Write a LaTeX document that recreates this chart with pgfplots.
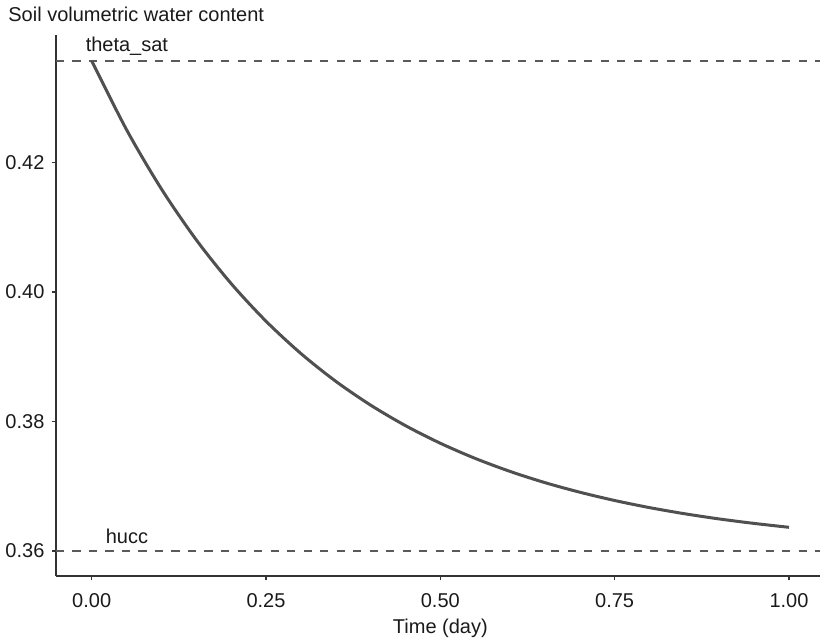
\documentclass[border=0pt]{standalone}
\usepackage{fontspec}
\setmainfont{Liberation Sans}
\usepackage{pgfplots}
\pgfplotsset{compat=1.18}
\definecolor{curve}{HTML}{505050}
\definecolor{dashc}{HTML}{5A5A5A}
\definecolor{axc}{HTML}{333333}
\definecolor{txt}{HTML}{1A1A1A}
\begin{document}
\begin{tikzpicture}
\useasboundingbox (-28pt,-33pt) rectangle (382pt,288pt);
\begin{axis}[
  name=ax, at={(0,0)}, anchor=south west,
  scale only axis, width=382pt, height=270.5pt,
  xmin=-0.0512, xmax=1.0445, ymin=0.35614, ymax=0.43969,
  axis x line*=bottom, axis y line*=left,
  axis line style={-, color=axc, line width=0.85pt},
  xtick={0,0.25,0.5,0.75,1}, xticklabels={0.00,0.25,0.50,0.75,1.00},
  ytick={0.36,0.38,0.40,0.42}, yticklabels={0.36,0.38,0.40,0.42},
  tick align=outside, major tick length=2.2pt,
  tick style={color=axc, line width=0.8pt},
  xticklabel style={anchor=base, inner sep=0pt, yshift=-13.35pt, text=txt},
  yticklabel style={anchor=east, inner sep=0pt, xshift=-3.4pt, text=txt},
  clip=false,
]
\addplot[dashc, line width=0.75pt, dash pattern=on 4.15pt off 4.1pt] coordinates {(-0.0512,0.4357) (1.0445,0.4357)};
\addplot[dashc, line width=0.75pt, dash pattern=on 4.15pt off 4.1pt] coordinates {(-0.0512,0.36) (1.0445,0.36)};
\addplot[curve, line width=1.5pt, smooth] coordinates {
(0.00,0.43570) (0.05,0.42506) (0.10,0.41591) (0.15,0.40805) (0.20,0.40130)
(0.25,0.39549) (0.30,0.39050) (0.35,0.38621) (0.40,0.38253) (0.45,0.37936)
(0.50,0.37664) (0.55,0.37430) (0.60,0.37229) (0.65,0.37056) (0.70,0.36908)
(0.75,0.36780) (0.80,0.36670) (0.85,0.36576) (0.90,0.36495) (0.95,0.36426)
(1.00,0.36366)};
\node[anchor=base, inner sep=0pt, text=txt] at ([yshift=4.5pt]axis cs:0.0505,0.4357) {theta\_sat};
\node[anchor=base, inner sep=0pt, text=txt] at ([yshift=3.85pt]axis cs:0.0505,0.36) {hucc};
\node[anchor=base, inner sep=0pt, text=txt] at ([yshift=-28.65pt]axis cs:0.5,0.35614) {Time (day)};
\end{axis}
\node[anchor=base west, inner sep=0pt, text=txt] at ([xshift=-24pt,yshift=6.65pt]ax.north west) {Soil volumetric water content};
\end{tikzpicture}
\end{document}
